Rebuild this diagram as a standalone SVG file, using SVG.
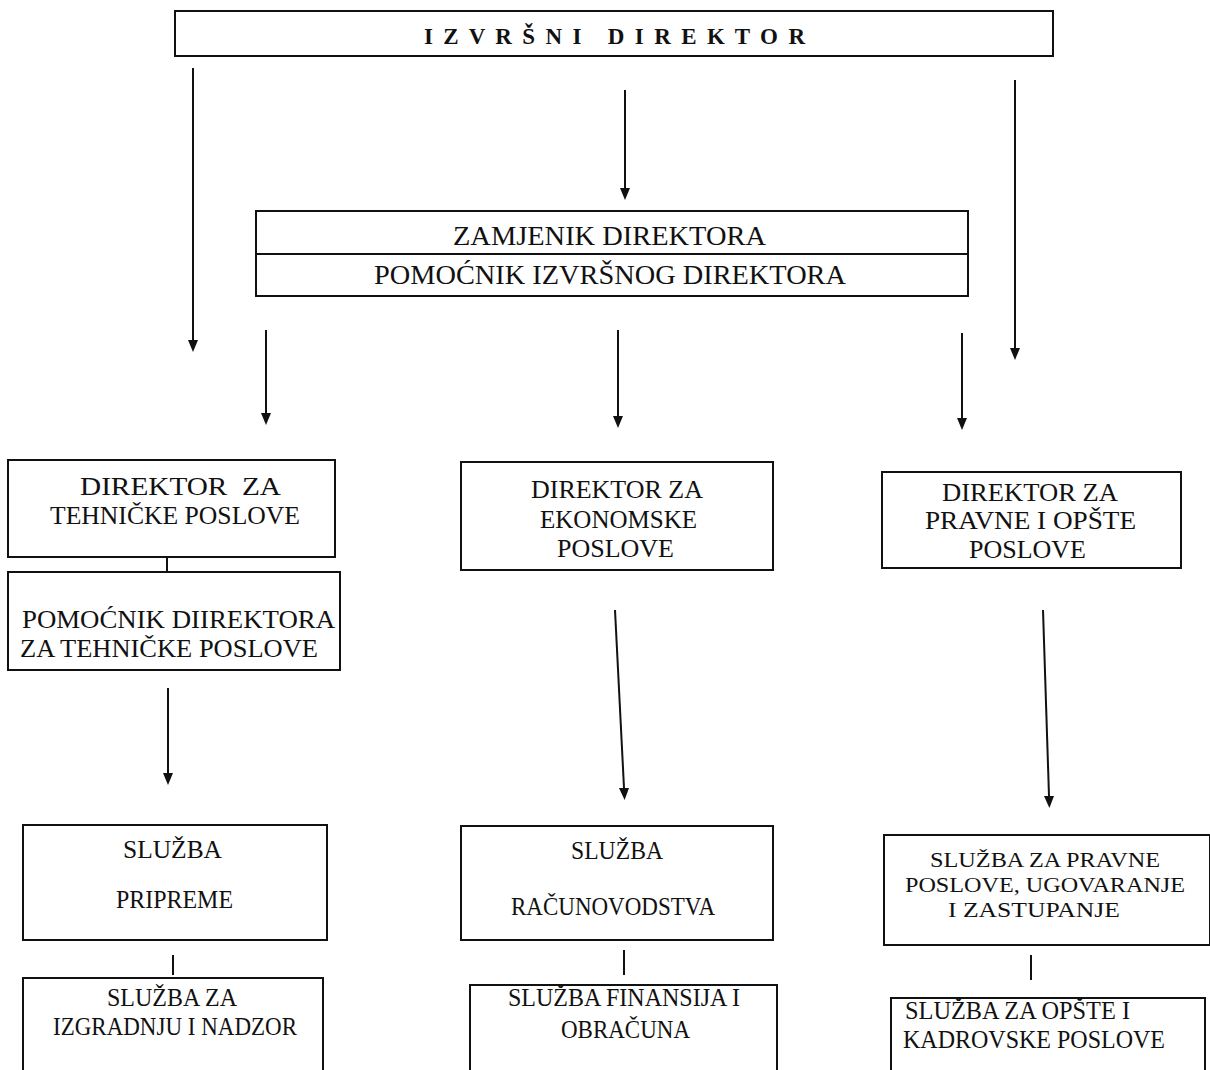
<svg xmlns="http://www.w3.org/2000/svg" width="1210" height="1070" viewBox="0 0 1210 1070">
<style>
.box{fill:#fff;stroke:#111;stroke-width:2}
.t{font-family:"Liberation Serif","Times New Roman",serif;font-size:25px;fill:#111;text-anchor:start}
.big{font-size:27px}
.sm{font-size:22px}
.title{font-family:"Liberation Serif","Times New Roman",serif;font-size:23px;font-weight:bold;fill:#111}
.c{stroke:#111;stroke-width:2;fill:none}
.ah{fill:#111}
</style>
<rect width="1210" height="1070" fill="#fff"/>
<g id="connectors">
<path class="c" d="M193,68 V340"/>
<path class="ah" d="M188,340 L198,340 L193,352 Z"/>
<path class="c" d="M625,90 V188"/>
<path class="ah" d="M620,188 L630,188 L625,200 Z"/>
<path class="c" d="M1015,80 V348"/>
<path class="ah" d="M1010,348 L1020,348 L1015,360 Z"/>
<path class="c" d="M266,330 V413"/>
<path class="ah" d="M261,413 L271,413 L266,425 Z"/>
<path class="c" d="M618,330 V416"/>
<path class="ah" d="M613,416 L623,416 L618,428 Z"/>
<path class="c" d="M962,333 V418"/>
<path class="ah" d="M957,418 L967,418 L962,430 Z"/>
<path class="c" d="M167,557 V572"/>
<path class="c" d="M168,688 V773"/>
<path class="ah" d="M163,773 L173,773 L168,785 Z"/>
<path class="c" d="M615,610 L624,788"/>
<path class="ah" d="M619,788 L629,788 L624.6,800 Z"/>
<path class="c" d="M1043,610 L1049,796"/>
<path class="ah" d="M1044,796 L1054,796 L1049.4,808 Z"/>
<path class="c" d="M173,955 V975"/>
<path class="c" d="M624,950 V975"/>
<path class="c" d="M1031,955 V980"/>
</g>
<g id="n-izvrsni">
<rect class="box" x="175" y="11" width="878" height="45"/>
<text class="title" x="424" y="44" textLength="381" lengthAdjust="spacing" xml:space="preserve">I Z V R Š N I   D I R E K T O R</text>
</g>
<g id="n-zamjenik">
<rect class="box" x="256" y="211" width="712" height="85"/>
<line class="c" x1="256" y1="254" x2="968" y2="254"/>
<text class="t big" x="453" y="245" textLength="313" lengthAdjust="spacingAndGlyphs">ZAMJENIK DIREKTORA</text>
<text class="t big" x="374" y="284" textLength="472" lengthAdjust="spacingAndGlyphs">POMOĆNIK IZVRŠNOG DIREKTORA</text>
</g>
<g id="n-dir-teh">
<rect class="box" x="8" y="460" width="327" height="97"/>
<text class="t" x="80" y="495" textLength="201" lengthAdjust="spacingAndGlyphs" xml:space="preserve">DIREKTOR  ZA</text>
<text class="t" x="50" y="524" textLength="250" lengthAdjust="spacingAndGlyphs">TEHNIČKE POSLOVE</text>
</g>
<g id="n-pom-teh">
<rect class="box" x="8" y="572" width="332" height="98"/>
<text class="t" x="22" y="628" textLength="313" lengthAdjust="spacingAndGlyphs">POMOĆNIK DIIREKTORA</text>
<text class="t" x="20" y="657" textLength="298" lengthAdjust="spacingAndGlyphs">ZA TEHNIČKE POSLOVE</text>
</g>
<g id="n-dir-eko">
<rect class="box" x="461" y="462" width="312" height="108"/>
<text class="t" x="531" y="498" textLength="172" lengthAdjust="spacingAndGlyphs">DIREKTOR ZA</text>
<text class="t" x="540" y="528" textLength="157" lengthAdjust="spacingAndGlyphs">EKONOMSKE</text>
<text class="t" x="557" y="557" textLength="117" lengthAdjust="spacingAndGlyphs">POSLOVE</text>
</g>
<g id="n-dir-prav">
<rect class="box" x="882" y="472" width="299" height="96"/>
<text class="t" x="942" y="501" textLength="176" lengthAdjust="spacingAndGlyphs">DIREKTOR ZA</text>
<text class="t" x="925" y="529" textLength="211" lengthAdjust="spacingAndGlyphs">PRAVNE I OPŠTE</text>
<text class="t" x="969" y="558" textLength="117" lengthAdjust="spacingAndGlyphs">POSLOVE</text>
</g>
<g id="n-pripreme">
<rect class="box" x="23" y="825" width="304" height="115"/>
<text class="t" x="123" y="858" textLength="99" lengthAdjust="spacingAndGlyphs">SLUŽBA</text>
<text class="t" x="116" y="908" textLength="117" lengthAdjust="spacingAndGlyphs">PRIPREME</text>
</g>
<g id="n-izgradnja">
<rect class="box" x="23" y="978" width="300" height="100"/>
<text class="t" x="107" y="1006" textLength="130" lengthAdjust="spacingAndGlyphs">SLUŽBA ZA</text>
<text class="t" x="53" y="1035" textLength="244" lengthAdjust="spacingAndGlyphs">IZGRADNJU I NADZOR</text>
</g>
<g id="n-racun">
<rect class="box" x="461" y="826" width="312" height="114"/>
<text class="t" x="571" y="859" textLength="92" lengthAdjust="spacingAndGlyphs">SLUŽBA</text>
<text class="t" x="511" y="915" textLength="204" lengthAdjust="spacingAndGlyphs">RAČUNOVODSTVA</text>
</g>
<g id="n-finansije">
<rect class="box" x="470" y="985" width="307" height="100"/>
<text class="t" x="508" y="1006" textLength="232" lengthAdjust="spacingAndGlyphs">SLUŽBA FINANSIJA I</text>
<text class="t" x="561" y="1038" textLength="129" lengthAdjust="spacingAndGlyphs">OBRAČUNA</text>
</g>
<g id="n-pravne">
<rect class="box" x="884" y="835" width="326" height="110"/>
<text class="t sm" x="930" y="867" textLength="230" lengthAdjust="spacingAndGlyphs">SLUŽBA ZA PRAVNE</text>
<text class="t sm" x="905" y="892" textLength="280" lengthAdjust="spacingAndGlyphs">POSLOVE, UGOVARANJE</text>
<text class="t sm" x="948" y="917" textLength="172" lengthAdjust="spacingAndGlyphs">I ZASTUPANJE</text>
</g>
<g id="n-opste">
<rect class="box" x="891" y="998" width="314" height="90"/>
<text class="t" x="905" y="1019" textLength="225" lengthAdjust="spacingAndGlyphs">SLUŽBA ZA OPŠTE I</text>
<text class="t" x="903" y="1048" textLength="262" lengthAdjust="spacingAndGlyphs">KADROVSKE POSLOVE</text>
</g>
</svg>
